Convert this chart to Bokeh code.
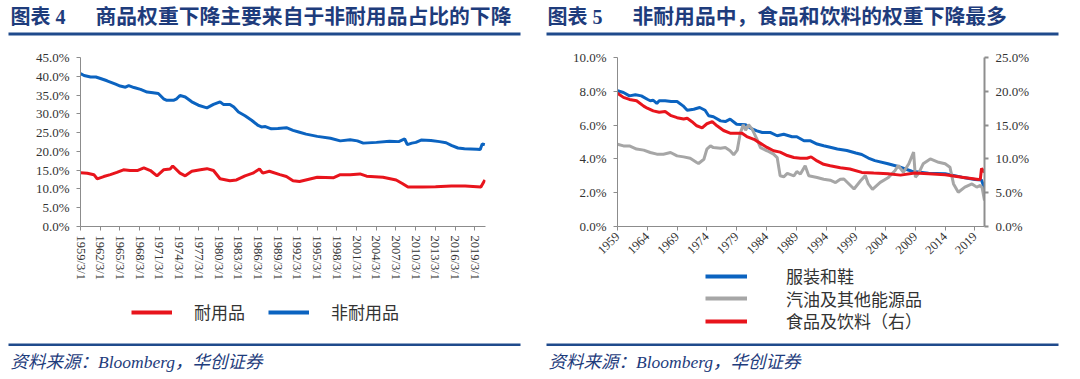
import math
from bokeh.plotting import figure
from bokeh.models import (Range1d, FixedTicker, PrintfTickFormatter, CustomJSTickFormatter,
                          LinearAxis, Label, BoxAnnotation, Legend, LegendItem, Plot)
from bokeh.layouts import row, column
from bokeh.embed import file_html
from bokeh.resources import INLINE

# ---------------- data: chart 4 ----------------
nondur_years = [1959.17, 1959.7, 1960.7, 1961.5, 1962.2, 1963.2, 1964.5, 1965.2, 1966.0, 1966.5,
                1967.3, 1968.3, 1969.3, 1970.2, 1971.0, 1971.8, 1972.3, 1973.3, 1973.8, 1974.3,
                1975.1, 1976.1, 1977.1, 1978.4, 1979.4, 1980.4, 1980.9, 1981.9, 1982.5, 1983.2,
                1984.2, 1985.2, 1986.2, 1986.7, 1987.3, 1988.2, 1989.2, 1990.5, 1991.5, 1992.5,
                1993.5, 1995.2, 1997.2, 1998.7, 2000.2, 2001.3, 2002.2, 2004.2, 2006.2, 2007.6,
                2008.5, 2008.9, 2009.6, 2010.2, 2011.0, 2012.5, 2013.8, 2014.8, 2015.6, 2016.6,
                2017.6, 2019.5, 2020.0, 2020.3, 2020.7]
nondur_vals = [40.7, 40.2, 39.8, 39.8, 39.4, 38.8, 37.9, 37.4, 37.1, 37.5,
               37.0, 36.5, 35.8, 35.6, 35.4, 34.0, 33.6, 33.6, 34.0, 34.9,
               34.5, 33.2, 32.3, 31.6, 32.5, 33.2, 32.5, 32.5, 31.8, 30.5,
               29.5, 28.3, 26.9, 26.5, 26.6, 26.0, 26.1, 26.3, 25.6, 25.1,
               24.6, 24.0, 23.5, 22.8, 23.1, 22.8, 22.2, 22.4, 22.7, 22.6,
               23.3, 21.8, 22.2, 22.4, 23.0, 22.9, 22.6, 22.3, 21.6, 20.9,
               20.7, 20.6, 20.5, 22.0, 21.8]

dur_years = [1959.17, 1960.2, 1961.2, 1961.7, 1962.7, 1963.7, 1964.7, 1965.7, 1966.7, 1967.8,
             1968.8, 1969.8, 1970.8, 1971.8, 1972.8, 1973.2, 1974.3, 1975.1, 1976.1, 1977.4,
             1978.4, 1979.4, 1980.4, 1981.9, 1982.9, 1984.2, 1985.4, 1986.4, 1986.9, 1987.9,
             1989.5, 1990.5, 1991.5, 1992.5, 1995.2, 1997.7, 1998.7, 2000.2, 2001.7, 2002.7,
             2005.2, 2007.2, 2008.2, 2009.0, 2011.2, 2013.2, 2015.6, 2017.7, 2020.1, 2020.7]
dur_vals = [14.3, 14.2, 13.8, 12.7, 13.3, 13.8, 14.4, 15.1, 14.9, 14.9,
            15.6, 14.9, 13.5, 15.1, 15.3, 16.1, 14.2, 13.5, 14.7, 15.1,
            15.4, 14.9, 12.7, 12.2, 12.4, 13.5, 14.2, 15.3, 14.2, 14.7,
            13.8, 13.3, 12.2, 12.0, 13.1, 13.0, 13.8, 13.8, 14.0, 13.4,
            13.1, 12.4, 11.4, 10.5, 10.5, 10.6, 10.8, 10.8, 10.5, 12.4]

left_tick_labels = ["1959/3/1", "1962/3/1", "1965/3/1", "1968/3/1", "1971/3/1", "1974/3/1",
                    "1977/3/1", "1980/3/1", "1983/3/1", "1986/3/1", "1989/3/1", "1992/3/1",
                    "1995/3/1", "1998/3/1", "2001/3/1", "2004/3/1", "2007/3/1", "2010/3/1",
                    "2013/3/1", "2016/3/1", "2019/3/1"]
left_y_ticks = [0, 5, 10, 15, 20, 25, 30, 35, 40, 45]

# ---------------- data: chart 5 ----------------
apparel_years = [1959.0, 1960.0, 1961.0, 1962.0, 1963.0, 1964.0, 1964.5, 1965.0, 1965.6, 1966.0,
                 1967.0, 1968.0, 1969.0, 1970.0, 1970.7, 1971.8, 1972.8, 1973.7, 1974.3, 1975.1,
                 1976.3, 1977.1, 1977.9, 1979.0, 1980.5, 1981.3, 1982.4, 1983.3, 1984.7, 1985.8,
                 1986.9, 1988.3, 1989.1, 1990.3, 1991.4, 1992.5, 1993.6, 1994.7, 1995.9, 1997.5,
                 1999.0, 2000.0, 2001.1, 2002.2, 2004.4, 2006.1, 2008.4, 2011.2, 2014.0, 2016.8,
                 2019.0, 2020.1, 2020.6]
apparel_vals = [8.03, 7.93, 7.73, 7.79, 7.73, 7.53, 7.44, 7.47, 7.28, 7.44,
                7.44, 7.40, 7.40, 7.14, 6.88, 6.94, 7.04, 6.88, 6.55, 6.49,
                6.25, 6.21, 6.35, 6.05, 6.02, 5.82, 5.66, 5.56, 5.56, 5.37,
                5.46, 5.31, 5.31, 5.07, 5.07, 4.88, 4.78, 4.69, 4.59, 4.50,
                4.35, 4.26, 4.05, 3.90, 3.71, 3.55, 3.27, 3.15, 3.12, 2.92,
                2.78, 2.75, 2.23]

energy_years = [1959.0, 1960.0, 1961.0, 1962.2, 1963.4, 1964.5, 1965.6, 1966.7, 1967.9, 1969.0,
                1970.1, 1971.2, 1972.3, 1972.6, 1973.5, 1974.0, 1974.6, 1975.1, 1976.3, 1977.1,
                1977.9, 1978.5, 1979.1, 1979.6, 1980.1, 1980.5, 1981.0, 1981.6, 1982.4, 1983.0,
                1984.1, 1985.2, 1985.8, 1986.3, 1986.9, 1987.5, 1988.6, 1989.1, 1989.7, 1990.5,
                1991.1, 1992.5, 1993.6, 1994.7, 1995.6, 1996.4, 1997.0, 1998.7, 1999.8, 2000.6,
                2001.1, 2001.8, 2003.1, 2004.4, 2005.6, 2006.1, 2007.0, 2007.9, 2008.7, 2009.0,
                2009.5, 2010.3, 2011.5, 2012.9, 2014.0, 2014.8, 2015.4, 2016.2, 2017.3, 2018.5,
                2019.3, 2019.9, 2020.2, 2020.6]
energy_vals = [4.87, 4.77, 4.77, 4.58, 4.52, 4.38, 4.28, 4.28, 4.38, 4.18,
               4.12, 4.04, 3.79, 3.73, 3.98, 4.58, 4.77, 4.67, 4.63, 4.67,
               4.48, 4.24, 4.52, 5.50, 6.02, 5.70, 6.02, 5.76, 5.17, 4.67,
               4.48, 4.28, 4.08, 3.00, 2.94, 3.14, 3.00, 3.25, 3.10, 3.59,
               3.00, 2.90, 2.80, 2.74, 2.60, 2.80, 2.81, 2.22, 2.71, 3.01,
               2.52, 2.20, 2.61, 2.88, 3.31, 3.61, 3.21, 3.71, 4.40, 2.92,
               3.12, 3.71, 4.00, 3.80, 3.71, 3.51, 2.52, 2.03, 2.33, 2.52,
               2.33, 2.43, 2.30, 1.54]

food_years = [1959.0, 1960.0, 1961.0, 1962.2, 1963.4, 1964.0, 1965.0, 1966.0, 1967.0, 1968.0,
              1969.0, 1970.1, 1970.7, 1971.5, 1972.3, 1973.2, 1974.0, 1974.9, 1975.7, 1976.8,
              1977.9, 1979.1, 1979.9, 1980.7, 1981.9, 1983.0, 1984.1, 1985.2, 1986.3, 1987.5,
              1988.6, 1989.7, 1990.8, 1991.5, 1992.5, 1993.6, 1994.7, 1996.4, 1998.0, 2000.0,
              2002.0, 2004.4, 2006.5, 2008.9, 2011.2, 2014.0, 2016.8, 2019.6, 2019.9, 2020.1,
              2020.6]
food_vals = [19.7, 19.1, 18.8, 18.6, 17.8, 17.5, 17.1, 16.9, 17.0, 16.4,
             16.1, 15.9, 16.0, 15.5, 14.9, 14.6, 15.2, 15.5, 14.9, 14.2,
             13.8, 13.8, 13.8, 13.3, 12.9, 12.3, 11.7, 11.2, 11.0, 10.5,
             10.2, 10.1, 10.1, 10.3, 9.7, 9.2, 9.0, 8.7, 8.5, 8.0,
             7.9, 7.8, 7.6, 7.9, 7.8, 7.65, 7.3, 6.95, 7.0, 8.6,
             8.0]

right_x_ticks = [1959, 1964, 1969, 1974, 1979, 1984, 1989, 1994, 1999, 2004, 2009, 2014, 2019]
right_y_ticks = [0, 2, 4, 6, 8, 10]
right_y2_ticks = [0, 5, 10, 15, 20, 25]

# ---------------- styles ----------------
SERIF = "Liberation Serif"
CJK = "Noto Sans CJK SC"
MIXED = SERIF + ", " + CJK
NAVY_TEXT = "#1E3C7C"
NAVY_LINE = "#1F4A8C"
BLUE = "#0B63C0"
RED = "#E8141C"
GREY = "#A6A6A6"
AXIS = "#8C8C8C"
LBL = "#333333"

HAS_FRAME_ALIGN = "frame_align" in Plot.properties()

HEAD_H = 46            # page y 0..46
FOOT_H = 44            # page y 334..378
CHART_TOP_PAGE = 46
FRAME_TOP_PAGE = 57
FRAME_BOTTOM_PAGE = 226
ITEM_H = 24.6          # measured legend item height


def no_align(p):
    if HAS_FRAME_ALIGN:
        p.frame_align = False
    return p


def blank_fig(width, height):
    p = figure(width=width, height=height, x_range=Range1d(0, width), y_range=Range1d(height, 0),
               output_backend="svg", toolbar_location=None,
               x_axis_location=None, y_axis_location=None,
               min_border_left=0, min_border_right=0, min_border_top=0, min_border_bottom=0)
    p.outline_line_color = None
    p.xgrid.visible = False
    p.ygrid.visible = False
    p.background_fill_color = "white"
    p.border_fill_color = "white"
    return no_align(p)


def head_fig(width, num, title, rule_l, rule_r, num_x, title_x):
    p = blank_fig(width, HEAD_H)
    p.add_layout(BoxAnnotation(left=rule_l, right=rule_r, top=32, bottom=35,
                               fill_color=NAVY_LINE, fill_alpha=1, line_alpha=0))
    p.add_layout(Label(x=num_x, y=16, text="图表 " + num, text_font=MIXED, text_font_style="bold",
                       text_font_size="20px", text_color=NAVY_TEXT, text_baseline="middle"))
    p.add_layout(Label(x=title_x, y=16, text=title, text_font=MIXED, text_font_style="bold",
                       text_font_size="20.8px", text_color=NAVY_TEXT, text_baseline="middle"))
    return p


def foot_fig(width, rule_l, rule_r, text_x):
    p = blank_fig(width, FOOT_H)
    p.add_layout(BoxAnnotation(left=rule_l, right=rule_r, top=9, bottom=11.5,
                               fill_color=NAVY_LINE, fill_alpha=1, line_alpha=0))
    p.add_layout(Label(x=text_x, y=27.5, text="资料来源：Bloomberg，华创证券",
                       text_font=MIXED, text_font_style="italic",
                       text_font_size="17.5px", text_color=NAVY_TEXT, text_baseline="middle"))
    return p


def add_legend(p, items, loc, orientation, glyph_w, standoff, spacing):
    leg = Legend(items=items, orientation=orientation, location=loc,
                 glyph_width=glyph_w, glyph_height=20, label_standoff=standoff, spacing=spacing,
                 padding=0, margin=0, label_text_font=MIXED, label_text_font_size="17px",
                 label_text_color=LBL, border_line_color=None, background_fill_alpha=0,
                 label_height=20)
    p.add_layout(leg)


def key_line(p, color):
    return p.line(x=[float("nan")], y=[float("nan")], line_color=color, line_width=4)


def chart_fig(width, height, bl, br, xr, yr):
    top = FRAME_TOP_PAGE - CHART_TOP_PAGE
    bottom = height - (FRAME_BOTTOM_PAGE - CHART_TOP_PAGE)
    p = figure(width=width, height=height, x_range=xr, y_range=yr,
               output_backend="svg", toolbar_location=None,
               min_border_left=bl, min_border_right=br,
               min_border_top=top, min_border_bottom=bottom)
    p.outline_line_color = None
    p.xgrid.visible = False
    p.ygrid.visible = False
    p.background_fill_color = "white"
    p.border_fill_color = "white"
    return no_align(p)


def style_axis(ax, size="13px", color=AXIS, width=1):
    ax.axis_line_color = color
    ax.axis_line_width = width
    ax.major_tick_line_color = color
    ax.major_tick_line_width = width
    ax.major_tick_in = 0
    ax.major_tick_out = 4
    ax.minor_tick_line_color = None
    ax.major_label_text_font = SERIF
    ax.major_label_text_font_size = size
    ax.major_label_text_color = LBL
    ax.major_label_standoff = 7


# ---------------- chart 4 (page x 0..544) ----------------
p1 = chart_fig(544, 244, 80, 59, Range1d(1959.16, 2020.8), Range1d(0, 45))   # page y 46..290
p1.line(dur_years, dur_vals, line_color=RED, line_width=3)
p1.line(nondur_years, nondur_vals, line_color=BLUE, line_width=3)

left_ticks = [int(s.split("/")[0]) + 2 / 12 for s in left_tick_labels]
p1.xaxis.ticker = FixedTicker(ticks=left_ticks)
p1.xaxis.formatter = CustomJSTickFormatter(code="return Math.round(tick - 2/12) + '/3/1';")
p1.xaxis.major_label_orientation = "vertical"
p1.yaxis.ticker = FixedTicker(ticks=left_y_ticks)
p1.yaxis.formatter = PrintfTickFormatter(format="%.1f%%")
for ax in p1.xaxis + p1.yaxis:
    style_axis(ax)
p1.xaxis.major_label_text_font_size = "12.5px"
p1.xaxis.major_label_standoff = 5

L1_H = 44                                                                    # page y 290..334
l1 = blank_fig(544, L1_H)
add_legend(l1, [LegendItem(label="耐用品", renderers=[key_line(l1, RED)]),
                LegendItem(label="非耐用品", renderers=[key_line(l1, BLUE)])],
           (131, L1_H - 22 - ITEM_H / 2), "horizontal", 41, 22, 23)
h1 = head_fig(544, "4", "商品权重下降主要来自于非耐用品占比的下降", 8, 520, 10, 95)
f1 = foot_fig(544, 8, 520, 10)

# ---------------- chart 5 (page x 544..1078) ----------------
p2 = chart_fig(534, 216, 73, 94, Range1d(1959.0, 2020.6), Range1d(0, 10))    # page y 46..262
p2.extra_y_ranges = {"right": Range1d(0, 25)}
p2.line(apparel_years, apparel_vals, line_color=BLUE, line_width=3)
p2.line(energy_years, energy_vals, line_color=GREY, line_width=3)
p2.line(food_years, food_vals, line_color=RED, line_width=3, y_range_name="right")

p2.xaxis.ticker = FixedTicker(ticks=right_x_ticks)
p2.xaxis.formatter = PrintfTickFormatter(format="%d")
p2.xaxis.major_label_orientation = math.pi / 4
p2.yaxis.ticker = FixedTicker(ticks=right_y_ticks)
p2.yaxis.formatter = PrintfTickFormatter(format="%.1f%%")
ax2 = LinearAxis(y_range_name="right", ticker=FixedTicker(ticks=right_y2_ticks),
                 formatter=PrintfTickFormatter(format="%.1f%%"))
p2.add_layout(ax2, "right")
for ax in p2.xaxis + p2.yaxis:
    style_axis(ax)
style_axis(ax2, width=2, color="#8E8E8E")
p2.xaxis.major_label_text_font_size = "12.5px"
p2.xaxis.major_label_standoff = 4

L2_H = 72                                                                    # page y 262..334
l2 = blank_fig(534, L2_H)
right_legend = [("服装和鞋", BLUE, 14), ("汽油及其他能源品", GREY, 36.5), ("食品及饮料（右）", RED, 59)]
for label, color, cy in right_legend:
    add_legend(l2, [LegendItem(label=label, renderers=[key_line(l2, color)])],
               (161, L2_H - cy - ITEM_H / 2), "vertical", 42, 39, 0)
h2 = head_fig(534, "5", "非耐用品中，食品和饮料的权重下降最多", 2, 514, 3, 88)
f2 = foot_fig(534, 2, 514, 4)

layout = row(column(h1, p1, l1, f1, spacing=0), column(h2, p2, l2, f2, spacing=0), spacing=0)
open("out.html", "w").write(file_html(layout, INLINE))
